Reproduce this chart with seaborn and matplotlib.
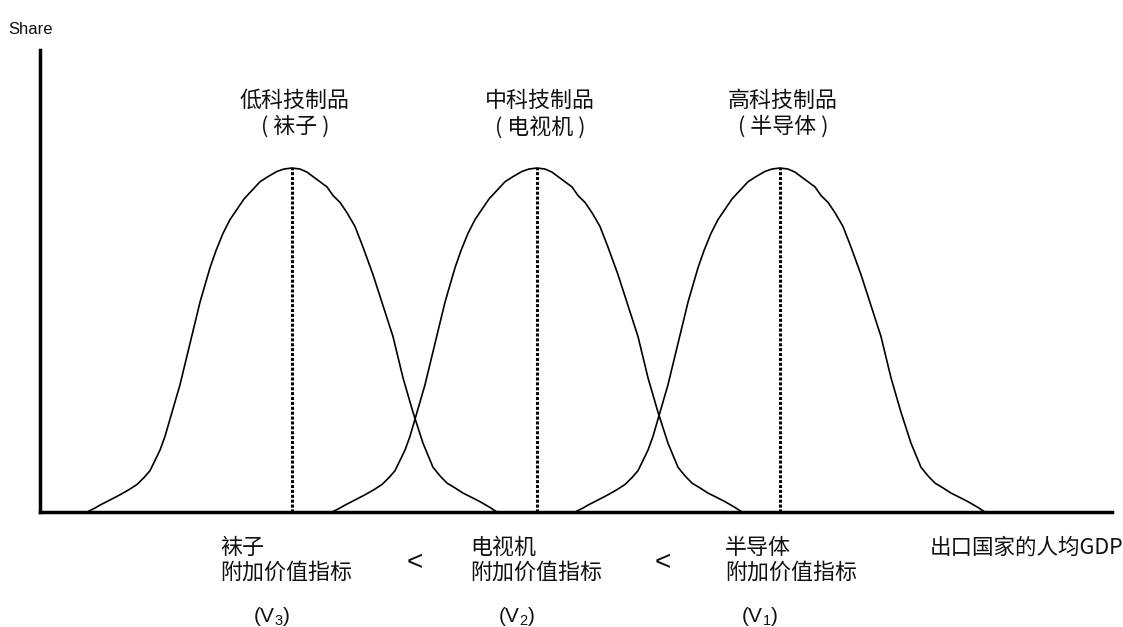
import pandas as pd
import matplotlib
matplotlib.use("Agg")
import matplotlib.pyplot as plt
import seaborn as sns

sns.set_style("white")
plt.rcParams['font.family'] = ['Noto Sans CJK SC', 'DejaVu Sans']
plt.rcParams['mathtext.fontset'] = 'custom'
plt.rcParams['mathtext.rm'] = 'Liberation Sans'
plt.rcParams['mathtext.it'] = 'Liberation Sans'

# 三条分布曲线的中心（出口国家人均GDP位置）
products = ['袜子', '电视机', '半导体']
top_labels = ['低科技制品', '中科技制品', '高科技制品']
centers = [252, 497, 740]
v_labels = [r'$(\mathrm{V}_3)$', r'$(\mathrm{V}_2)$', r'$(\mathrm{V}_1)$']

# 曲线形状（相对中心的偏移，高度）
offsets = [-205, -198, -192, -182, -172, -163, -155, -148, -142, -137, -132, -127, -122, -117,
           -112, -107, -102, -97, -92, -87, -82, -76, -69, -62, -55, -48, -40, -32, -24, -15, -8, 0,
           8, 15, 21, 28, 35, 41, 48, 55, 63, 71, 76, 81, 86, 91, 96, 101, 106, 111, 116, 121,
           126, 131, 136, 141, 148, 155, 163, 171, 180, 188, 197, 205]
heights = [0.0, 0.01, 0.02, 0.035, 0.05, 0.065, 0.08, 0.10, 0.12, 0.15, 0.18, 0.22, 0.27, 0.32,
           0.37, 0.43, 0.49, 0.55, 0.61, 0.66, 0.71, 0.76, 0.81, 0.85, 0.88, 0.91, 0.935, 0.96,
           0.975, 0.99, 0.997, 1.0,
           0.997, 0.988, 0.975, 0.96, 0.945, 0.92, 0.90, 0.87, 0.83, 0.77, 0.73, 0.69, 0.645,
           0.60, 0.555, 0.51, 0.45, 0.39, 0.34, 0.29, 0.245, 0.20, 0.165, 0.13, 0.105, 0.084,
           0.07, 0.055, 0.042, 0.03, 0.015, 0.0]

rows = []
for p, c in zip(products, centers):
    for d, h in zip(offsets, heights):
        rows.append({'product': p, 'x': c + d, 'h': h})
df = pd.DataFrame(rows)

fig = plt.figure(figsize=(11.23, 6.27), dpi=100)
ax = fig.add_axes([40 / 1123, 115 / 627, 1072 / 1123, 462 / 627])

sns.lineplot(data=df, x='x', y='h', units='product', estimator=None, sort=False,
             color='black', linewidth=1.2, ax=ax)

# 中心虚线
for c in centers:
    ax.vlines(c, 0, 1.0, colors='black', linestyles=(0, (1, 0.6)), linewidth=2.2)

ax.set_xlim(0, 1072)
ax.set_ylim(0, 1.343)
ax.set_xticks([])
ax.set_yticks([])
ax.set_xlabel('')
ax.set_ylabel('')
for s in ['top', 'right']:
    ax.spines[s].set_visible(False)
for s in ['left', 'bottom']:
    ax.spines[s].set_linewidth(2.5)
    ax.spines[s].set_color('black')

fs = 15.8
# 上方标签
for c, t, p in zip(centers, top_labels, products):
    ax.text(c + 3, 1.195, t, ha='center', va='center', fontsize=fs, color='#111111')
    ax.text(c + 3, 1.119, '( ' + p + ' )', ha='center', va='center', fontsize=fs, color='#111111')

# 下方标签
label_x = [180, 430, 685]
for lx, c, p, v in zip(label_x, centers, products, v_labels):
    ax.text(lx, -0.105, p, ha='left', va='center', fontsize=fs, color='#111111', clip_on=False)
    ax.text(lx, -0.177, '附加价值指标', ha='left', va='center', fontsize=fs, color='#111111', clip_on=False)
    ax.text(c - 20, -0.305, v, ha='center', va='center', fontsize=15, color='#111111', clip_on=False)

for lx in [375, 623]:
    ax.text(lx, -0.148, '<', ha='center', va='center', fontsize=20, family='Liberation Sans',
            color='#111111', clip_on=False)

ax.text(890, -0.103, '出口国家的人均GDP', ha='left', va='center', fontsize=15.5, color='#111111', clip_on=False)

fig.text(8 / 1123, 1 - 30 / 627, 'Share', ha='left', va='center', fontsize=12,
         family='Liberation Sans', color='#111111')

fig.savefig('out.png', dpi=100)
